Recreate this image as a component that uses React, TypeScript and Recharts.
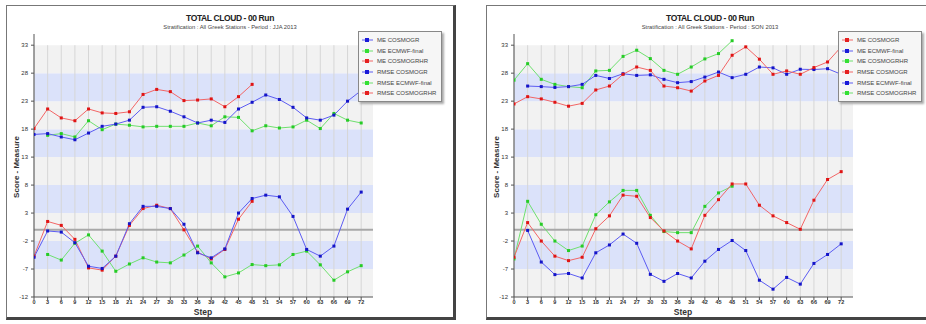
import { LineChart, Line, XAxis, YAxis, ReferenceArea, ReferenceLine } from 'recharts'

const STEPS = [0, 3, 6, 9, 12, 15, 18, 21, 24, 27, 30, 33, 36, 39, 42, 45, 48, 51, 54, 57, 60, 63, 66, 69, 72]
const Y_TICKS = [-12, -7, -2, 3, 8, 13, 18, 23, 28, 33]

// JJA 2013
const jjaMeCosmogr = [-4.9, -0.2, -0.4, -2.3, -6.5, -6.9, -4.7, 1.1, 4.2, 4.2, 3.8, 1.0, -4.1, -5.0, -3.4, 3.0, 5.6, 6.2, 5.9, 2.4, -3.5, -4.7, -2.9, 3.7, 6.75]
const jjaMeEcmwf = [null, -4.4, -5.4, -2.4, -0.9, -3.8, -7.4, -6.1, -5.0, -5.75, -5.9, -4.5, -2.9, -5.9, -8.4, -7.7, -6.2, -6.4, -6.25, -4.4, -3.8, -6.25, -9.0, -7.5, -6.4]
const jjaMeCosmogrhr = [-4.7, 1.5, 0.8, -1.7, -6.8, -7.2, -4.7, 0.8, 3.8, 4.4, 3.8, 0.0, -4.0, -5.2, -3.5, 1.9, 5.1, null, null, null, null, null, null, null, null]
const jjaRmseCosmogr = [17.05, 17.2, 16.6, 16.1, 17.3, 18.5, 18.9, 19.6, 21.9, 22.0, 21.2, 20.2, 19.1, 19.6, 19.2, 21.6, 22.8, 24.1, 23.3, 21.9, 20.0, 19.6, 20.5, 23.0, 24.9]
const jjaRmseEcmwf = [null, 16.9, 17.2, 16.6, 19.5, 17.9, 18.9, 18.7, 18.4, 18.5, 18.5, 18.5, 19.1, 18.6, 20.2, 20.1, 17.7, 18.6, 18.2, 18.4, 19.6, 18.1, 20.8, 19.6, 19.1]
const jjaRmseCosmogrhr = [18.1, 21.6, 20.0, 19.5, 21.6, 20.9, 20.8, 21.1, 24.2, 25.1, 24.7, 23.1, 23.2, 23.4, 22.0, 23.8, 26.0, null, null, null, null, null, null, null, null]

// SON 2013
const sonMeCosmogr = [-4.9, 1.3, -2.0, -4.7, -5.5, -4.9, 0.2, 2.5, 6.2, 6.0, 2.2, -0.2, -2.0, -3.4, 2.6, 5.4, 8.2, 8.2, 4.4, 2.5, 1.3, 0.1, 5.3, 9.0, 10.4]
const sonMeEcmwf = [null, -0.1, -5.75, -8.0, -7.8, -8.6, -4.1, -2.7, -0.75, -2.4, -7.95, -9.2, -7.8, -8.6, -5.6, -3.5, -1.9, -3.7, -9.0, -10.6, -8.5, -9.7, -6.0, -4.4, -2.5]
const sonMeCosmogrhr = [-5.2, 5.1, 1.0, -2.0, -3.7, -2.9, 2.7, 5.0, 7.05, 7.05, 2.6, -0.3, -0.5, -0.5, 4.2, 6.6, 7.8, null, null, null, null, null, null, null, null]
const sonRmseCosmogr = [22.5, 23.8, 23.4, 22.8, 22.1, 22.6, 25.0, 25.7, 27.8, 29.1, 28.5, 25.7, 25.4, 24.8, 26.6, 27.6, 31.2, 32.7, 30.5, 27.8, 28.4, 27.8, 29.0, 30.0, 32.7]
const sonRmseEcmwf = [null, 25.7, 25.6, 25.45, 25.6, 26.0, 27.6, 27.05, 27.9, 27.6, 27.7, 26.9, 26.3, 26.5, 27.3, 28.2, 27.2, 27.8, 29.1, 28.95, 27.8, 28.7, 28.65, 28.8, 27.8]
const sonRmseCosmogrhr = [26.75, 29.7, 26.9, 26.0, 25.6, 25.4, 28.4, 28.5, 31.0, 32.1, 30.6, 28.5, 27.8, 29.1, 30.55, 31.5, 33.8, null, null, null, null, null, null, null, null]

const BLUE = { line: '#5c5cf2', dot: '#1414c8', icon: '#1a1ad8' }
const GREEN = { line: '#6fe06f', dot: '#26cc26', icon: '#33e033' }
const RED = { line: '#f26666', dot: '#e01414', icon: '#e52020' }

type Serie = { key: string; name: string; values: (number | null)[]; color: typeof BLUE }

const jjaSeries: Serie[] = [
  { key: 'meA', name: 'ME COSMOGR', values: jjaMeCosmogr, color: BLUE },
  { key: 'meB', name: 'ME ECMWF-final', values: jjaMeEcmwf, color: GREEN },
  { key: 'meC', name: 'ME COSMOGRHR', values: jjaMeCosmogrhr, color: RED },
  { key: 'rmA', name: 'RMSE COSMOGR', values: jjaRmseCosmogr, color: BLUE },
  { key: 'rmB', name: 'RMSE ECMWF-final', values: jjaRmseEcmwf, color: GREEN },
  { key: 'rmC', name: 'RMSE COSMOGRHR', values: jjaRmseCosmogrhr, color: RED },
]

const sonSeries: Serie[] = [
  { key: 'meA', name: 'ME COSMOGR', values: sonMeCosmogr, color: RED },
  { key: 'meB', name: 'ME ECMWF-final', values: sonMeEcmwf, color: BLUE },
  { key: 'meC', name: 'ME COSMOGRHR', values: sonMeCosmogrhr, color: GREEN },
  { key: 'rmA', name: 'RMSE COSMOGR', values: sonRmseCosmogr, color: RED },
  { key: 'rmB', name: 'RMSE ECMWF-final', values: sonRmseEcmwf, color: BLUE },
  { key: 'rmC', name: 'RMSE COSMOGRHR', values: sonRmseCosmogrhr, color: GREEN },
]

const FONT = '"Liberation Sans", Arial, sans-serif'
const X_MAX = 74.6

const squareDot = (fill: string) => (p: any) => {
  const { cx, cy, value, index } = p
  if (cx == null || cy == null || value == null) return <g key={index} />
  return <rect key={index} x={cx - 1.5} y={cy - 1.5} width={3} height={3} fill={fill} />
}

function Panel({ left, subtitle, series }: { left: number; subtitle: string; series: Serie[] }) {
  const rows = STEPS.map((s, i) => {
    const r: any = { step: s }
    series.forEach(se => { r[se.key] = se.values[i] })
    return r
  })
  const drawOrder = [...series].reverse()

  return (
    <div style={{
      position: 'absolute', left, top: 5, width: 450, height: 315, boxSizing: 'border-box',
      background: '#fff', borderLeft: '1px solid #777', borderTop: '1px solid #777',
      borderRight: '3px solid #444', borderBottom: '3px solid #444', fontFamily: FONT,
    }}>
      <div style={{ position: 'absolute', left: 0, top: 7, width: '100%', textAlign: 'center', fontSize: 8.5, lineHeight: '10px', fontWeight: 'bold', color: '#222', letterSpacing: -0.4 }}>
        TOTAL CLOUD - 00 Run
      </div>
      <div style={{ position: 'absolute', left: 0, top: 18, width: '100%', textAlign: 'center', fontSize: 5.8, lineHeight: '7px', color: '#444' }}>
        {subtitle}
      </div>

      <LineChart width={445} height={311} data={rows} margin={{ top: 28, right: 79, left: 3, bottom: 4 }} style={{ position: 'absolute', left: 0, top: 0 }}>
        {Y_TICKS.slice(0, -1).map((y, i) => (
          <ReferenceArea key={'b' + y} x1={0} x2={X_MAX} y1={y} y2={Y_TICKS[i + 1]}
            fill={i % 2 === 1 ? '#dbe2fa' : '#f2f2f2'} fillOpacity={1} stroke="none" />
        ))}
        {STEPS.map(s => (
          <ReferenceLine key={'g' + s} segment={[{ x: s, y: -12 }, { x: s, y: 33 }]} stroke="#d6d6d6" strokeWidth={1} />
        ))}
        <ReferenceLine y={0} stroke="#a8a8a8" strokeWidth={2} />
        <XAxis dataKey="step" type="number" domain={[0, X_MAX]} ticks={STEPS} allowDataOverflow
          height={16} tickSize={3} tickMargin={0} interval={0}
          tick={{ fontSize: 5.5, fill: '#333', fontWeight: 'bold' }}
          axisLine={{ stroke: '#555' }} tickLine={{ stroke: '#555' }} />
        <YAxis type="number" domain={[-12, 35]} ticks={Y_TICKS} allowDataOverflow width={24}
          tickSize={3} tickMargin={3} interval={0}
          tick={{ fontSize: 6, fill: '#333' }}
          axisLine={{ stroke: '#555' }} tickLine={{ stroke: '#555' }} />
        {drawOrder.map(se => (
          <Line key={se.key} dataKey={se.key} name={se.name} type="linear" stroke={se.color.line}
            strokeWidth={1} dot={squareDot(se.color.dot)} activeDot={false} isAnimationActive={false} />
        ))}
      </LineChart>

      <div style={{ position: 'absolute', left: -45, top: 156, width: 110, textAlign: 'center', fontSize: 8, lineHeight: '10px', fontWeight: 'bold', color: '#333', transform: 'rotate(-90deg)' }}>
        Score - Measure
      </div>
      <div style={{ position: 'absolute', left: 146, top: 301, width: 100, textAlign: 'center', fontSize: 8.5, lineHeight: '10px', fontWeight: 'bold', color: '#333' }}>
        Step
      </div>

      <div style={{
        position: 'absolute', left: 351, top: 25, width: 84, height: 71, boxSizing: 'border-box',
        background: '#f6f6f6', border: '1px solid #888', boxShadow: '2px 2px 2px #aaa', paddingTop: 3,
      }}>
        {series.map(se => (
          <div key={se.key} style={{ display: 'flex', alignItems: 'center', height: 10.6 }}>
            <svg width={14} height={8} style={{ marginLeft: 2 }}>
              <line x1={1} y1={4} x2={12} y2={4} stroke={se.color.line} strokeWidth={1} />
              <rect x={4} y={2} width={4} height={4} fill={se.color.icon} />
            </svg>
            <span style={{ fontSize: 6, color: '#444', marginLeft: 2, whiteSpace: 'nowrap' }}>{se.name}</span>
          </div>
        ))}
      </div>
    </div>
  )
}

export default function App() {
  return (
    <div style={{ position: 'absolute', left: 0, top: 0, width: 926, height: 324, overflow: 'hidden', background: '#fff' }}>
      <Panel left={6} subtitle="Stratification : All Greek Stations - Period : JJA 2013" series={jjaSeries} />
      <Panel left={486} subtitle="Stratification : All Greek Stations - Period : SON 2013" series={sonSeries} />
    </div>
  )
}
